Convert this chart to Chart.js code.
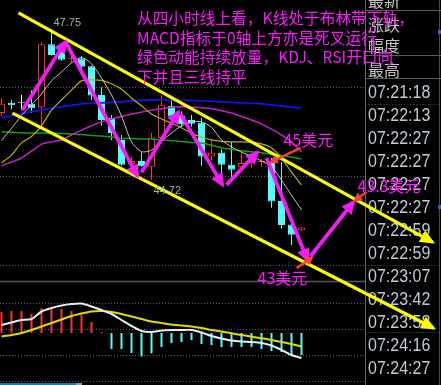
<!DOCTYPE html>
<html>
<head>
<meta charset="utf-8">
<script src="https://cdn.jsdelivr.net/npm/chart.js@4.4.1/dist/chart.umd.min.js"></script>
<style>
  html, body { margin: 0; padding: 0; background: #000; overflow: hidden; }
  canvas { display: block; }
</style>
</head>
<body>
<canvas id="k" width="441" height="385"></canvas>
<script>
// ---- 4h candles (index 0..30) ----
const opens  = [46.09,46.30,46.30,46.28,46.21,47.50,47.41,47.19,47.21,47.05,46.46,45.99,45.54,45.05,45.11,44.99,45.58,46.24,46.03,45.95,45.89,45.20,45.28,45.03,44.98,45.07,45.09,45.09,44.29,43.81,43.69];
const highs  = [46.40,46.36,46.46,46.56,47.55,47.75,47.46,47.25,47.26,47.06,46.62,46.05,45.64,45.19,45.29,45.69,46.46,46.36,46.13,46.05,45.99,45.54,45.35,45.50,45.27,45.25,45.15,45.17,45.09,43.82,43.76];
const lows   = [46.03,46.17,46.15,46.09,45.79,47.27,47.16,47.12,46.95,46.36,45.83,45.54,45.01,44.97,44.99,44.72,45.54,45.91,45.81,45.81,45.01,45.13,44.86,44.78,44.97,44.97,44.99,44.15,43.72,43.39,43.68];
const closes = [46.28,46.25,46.30,46.19,47.50,47.28,47.18,47.20,47.04,46.45,45.95,45.68,45.03,45.11,45.00,45.59,46.25,46.02,45.86,45.87,45.20,45.28,45.03,44.93,45.07,45.13,45.11,44.28,43.80,43.60,43.75];
// swing extremes tagged with their price
const swingHighIdx = 5;
const swingLowIdx = 15;

// ---- moving averages ----
const maWhite  = [45.53,45.78,46.04,46.26,46.48,46.75,46.93,47.12,47.23,47.10,46.81,46.46,46.03,45.50,45.30,45.33,45.52,45.68,45.83,45.91,45.91,45.80,45.54,45.40,45.29,45.21,45.11,44.99,44.72,44.41,44.11];
const maYellow = [45.07,45.23,45.48,45.61,45.83,46.15,46.36,46.56,46.75,46.77,46.76,46.69,46.58,46.40,46.24,46.07,45.97,45.88,45.79,45.68,45.60,45.54,45.51,45.50,45.50,45.49,45.46,45.38,45.17,44.88,44.62];
const maPurple = [45.01,45.09,45.17,45.31,45.45,45.50,45.54,45.64,45.74,45.83,45.91,45.97,46.02,46.07,46.11,46.15,46.18,46.21,46.22,46.21,46.20,46.18,46.14,46.09,46.02,45.95,45.87,45.76,45.64,45.50,45.29];
const maGreen  = [45.71,45.70,45.69,45.68,45.68,45.68,45.67,45.66,45.65,45.63,45.62,45.60,45.57,45.57,45.56,45.56,45.54,45.53,45.51,45.49,45.48,45.43,45.38,45.35,45.32,45.30,45.28,45.25,45.22,45.19,45.15];
const maBlue   = [46.00,46.04,46.08,46.12,46.15,46.19,46.22,46.25,46.28,46.29,46.30,46.31,46.32,46.34,46.35,46.36,46.36,46.36,46.35,46.35,46.34,46.33,46.32,46.31,46.30,46.29,46.28,46.26,46.24,46.21,46.19];

// ---- MACD ----
const macdHist = [0.21,0.22,0.22,0.19,0.25,0.26,0.24,0.22,0.18,0.11,0.01,-0.16,-0.16,-0.20,-0.235,-0.205,-0.14,-0.10,-0.09,-0.07,-0.11,-0.12,-0.14,-0.14,-0.14,-0.14,-0.16,-0.18,-0.19,-0.23,-0.22];
const macdDif  = [0.08,0.105,0.13,0.14,0.215,0.25,0.275,0.29,0.295,0.265,0.23,0.19,0.13,0.07,0.02,0.01,0.025,0.03,0.03,0.03,0.005,-0.03,-0.055,-0.075,-0.085,-0.09,-0.10,-0.125,-0.17,-0.22,-0.25];
const macdDea  = [-0.035,-0.02,0,0.03,0.065,0.10,0.135,0.17,0.195,0.215,0.22,0.21,0.19,0.165,0.14,0.115,0.10,0.085,0.075,0.065,0.05,0.03,0.015,-0.003,-0.02,-0.037,-0.053,-0.07,-0.09,-0.11,-0.135];

// ---- grid levels ----
const priceGrid = [46.62, 44.80, 42.98];
const macdGrid  = [0.297, 0.037, -0.22, -0.477];
const macdFrame = 0.52;

// ---- trend channel and projected path (index, price) ----
const channelTop    = [[1.7, 48.14], [43.1, 43.45]];
const channelBottom = [[1.1, 46.09], [43.2, 41.69]];
const swingPath = [
  [[2.1, 46.15], [6.4, 47.55]],
  [[6.4, 47.55], [13.6, 44.80]],
  [[14.0, 44.88], [17.7, 46.11]],
  [[17.9, 46.07], [22.1, 44.62]],
  [[22.5, 44.62], [25.6, 45.29]],
  [[26.5, 45.17], [30.6, 43.08]],
  [[30.9, 43.16], [35.2, 44.27]]
];
const targetPointers = [
  [[29.9, 45.38], [27.0, 45.09]],
  [[36.5, 44.475], [35.4, 44.31]],
  [[29.5, 42.92], [31.0, 43.12]]
];
const targetTags = [
  { text: '45美元',   x: 28.2, y: 45.54 },
  { text: '43.3美元', x: 35.6, y: 44.59 },
  { text: '43美元',   x: 25.6, y: 42.72 }
];
const noteLines = [
  '从四小时线上看，K线处于布林带下轨，',
  'MACD指标于0轴上方亦是死叉运行',
  '绿色动能持续放量，KDJ、RSI开口向',
  '下并且三线持平'
];
const quoteFields = ['最新', '涨跌', '幅度', '最高'];
const tickTimes = ['07:21:18','07:22:13','07:22:27','07:22:27','07:22:27','07:22:27','07:22:59','07:22:59','07:23:07','07:23:42','07:23:58','07:24:16','07:24:27'];

// ---- colours ----
const UP = '#ff3232', DOWN = '#54fcfc', FLAT = '#ffffff';
const idx = opens.map((_, i) => i);
const tone = idx.map(i => closes[i] > opens[i] ? UP : (closes[i] < opens[i] ? DOWN : FLAT));

const toPts = arr => arr.map(([x, y]) => ({ x, y }));
function maLine(vals, color, width, order) {
  return { type: 'line', data: vals.map((v, i) => ({ x: i, y: v })), borderColor: color, borderWidth: width,
           pointRadius: 0, tension: 0.25, yAxisID: 'y', order };
}
function macdLine(vals, color, order) {
  return { type: 'line', data: vals.map((v, i) => ({ x: i, y: v })), borderColor: color, borderWidth: 2,
           pointRadius: 0, tension: 0.25, yAxisID: 'y2', order };
}
function arrowLine(pts, color, width, head, order) {
  return { type: 'line', data: toPts(pts), borderColor: color, borderWidth: width, pointRadius: 0,
           tension: 0, yAxisID: 'y', order, arrowHead: head };
}

const datasets = [
  { type: 'bar', data: idx.map(i => ({ x: i, y: [lows[i], highs[i]] })), backgroundColor: tone,
    barThickness: 1, grouped: false, yAxisID: 'y', order: 20, inflateAmount: 0, minBarLength: 1 },
  { type: 'bar', data: idx.map(i => ({ x: i, y: [opens[i], closes[i]] })),
    backgroundColor: idx.map(i => tone[i] === UP ? '#000000' : tone[i]), borderColor: tone, borderWidth: 1,
    borderSkipped: false, barThickness: 7, grouped: false, yAxisID: 'y', order: 19, inflateAmount: 0, minBarLength: 1 },
  maLine(maGreen, '#10a010', 1.5, 15),
  maLine(maBlue, '#1010f0', 1.8, 14),
  maLine(maPurple, '#c81ec8', 1.5, 13),
  maLine(maYellow, '#b8b400', 1.2, 12),
  maLine(maWhite, '#c8c8c8', 1, 11),
  { type: 'bar', data: macdHist.map((v, i) => ({ x: i, y: [0, v] })),
    backgroundColor: macdHist.map(v => v >= 0 ? UP : DOWN), barThickness: 2, grouped: false,
    yAxisID: 'y2', order: 18, inflateAmount: 0, minBarLength: 1 },
  macdLine(macdDea, '#e0dc00', 10),
  macdLine(macdDif, '#ececec', 9),
  arrowLine(channelTop, '#ffff00', 3.2, { len: 15, half: 6.5 }, 5),
  arrowLine(channelBottom, '#ffff00', 3.2, { len: 15, half: 6.5 }, 5),
  ...swingPath.map(p => arrowLine(p, '#f41cf4', 3.8, { len: 14, half: 6.5 }, 3)),
  ...targetPointers.map(p => arrowLine(p, '#ff3c3c', 2.5, { len: 9, half: 4.5 }, 2))
];

// grid lines and the quote panel on the right
const framePlugin = {
  id: 'frame',
  beforeDatasetsDraw(chart) {
    const { ctx, scales: { y, y2 } } = chart;
    const split = 365.5;
    ctx.save();
    ctx.lineWidth = 1;
    ctx.strokeStyle = '#5e5e5e';
    ctx.setLineDash([1, 2]);
    const hline = (py, x0, x1) => { ctx.beginPath(); ctx.moveTo(x0, py); ctx.lineTo(x1, py); ctx.stroke(); };
    priceGrid.forEach(v => hline(Math.round(y.getPixelForValue(v)) + 0.5, 0, split));
    macdGrid.forEach(v => hline(Math.round(y2.getPixelForValue(v)) + 0.5, 0, split));
    ctx.setLineDash([]);
    ctx.strokeStyle = '#585858';
    ctx.lineWidth = 1.5;
    hline(Math.round(y2.getPixelForValue(macdFrame)) + 0.5, 0, split);

    // quote panel
    ctx.fillStyle = '#000';
    ctx.fillRect(split + 0.5, 0, 441 - split, 385);
    ctx.lineWidth = 1;
    ctx.strokeStyle = '#6a6a6a';
    ctx.beginPath(); ctx.moveTo(split, 0); ctx.lineTo(split, 385); ctx.stroke();
    ctx.strokeStyle = '#4a4a4a';
    ctx.beginPath(); ctx.moveTo(439.5, 0); ctx.lineTo(439.5, 385); ctx.stroke();
    ctx.strokeStyle = '#5a5a5a';
    [10.5, 55.5, 78.5].forEach(py => hline(py, split, 441));
    ctx.setLineDash([1, 2]);
    [104.5, 265.5, 332.5].forEach(py => hline(py, split, 439));
    ctx.setLineDash([]);

    ctx.fillStyle = '#c4c4c4';
    ctx.font = '16px "Noto Sans CJK SC"';
    ctx.textBaseline = 'middle';
    [1, 25, 46, 69.5].forEach((py, i) => ctx.fillText(quoteFields[i], 368, py));
    ctx.fillStyle = '#c2ccd6';
    ctx.font = '16px "Liberation Sans"';
    tickTimes.forEach((t, i) => {
      ctx.save();
      ctx.translate(368, 93 + 23 * i);
      ctx.scale(1, 1.1);
      ctx.fillText(t, 0, 0);
      ctx.restore();
    });

    ctx.fillStyle = '#3060c8';
    ctx.fillRect(438, 30, 3, 4);
    ctx.fillRect(438, 205, 3, 4);
    ctx.fillStyle = '#1e78a8';
    ctx.fillRect(0, 383, 76, 2);
    ctx.fillStyle = '#9a9a9a';
    ctx.fillRect(76, 383, 6, 2);
    ctx.restore();
  },
  afterDatasetsDraw(chart) {
    const { ctx, scales: { x, y } } = chart;
    ctx.save();
    // arrow heads at the end of drawn lines
    chart.data.datasets.forEach((ds, i) => {
      if (!ds.arrowHead) return;
      const pts = chart.getDatasetMeta(i).data;
      const a = pts[pts.length - 2], b = pts[pts.length - 1];
      const ang = Math.atan2(b.y - a.y, b.x - a.x);
      const { len, half } = ds.arrowHead;
      ctx.save();
      ctx.fillStyle = ds.borderColor;
      ctx.translate(b.x, b.y);
      ctx.rotate(ang);
      ctx.beginPath();
      ctx.moveTo(3, 0);
      ctx.lineTo(3 - len, -half);
      ctx.lineTo(3 - len, half);
      ctx.closePath();
      ctx.fill();
      ctx.restore();
    });

    // swing high / low price labels
    ctx.font = '11px "Liberation Sans"';
    ctx.fillStyle = '#a4aebb';
    ctx.textBaseline = 'bottom';
    ctx.fillText(highs[swingHighIdx].toFixed(2), x.getPixelForValue(swingHighIdx) + 2, y.getPixelForValue(highs[swingHighIdx]) - 4);
    ctx.textBaseline = 'top';
    ctx.fillText(lows[swingLowIdx].toFixed(2), x.getPixelForValue(swingLowIdx) + 2, y.getPixelForValue(lows[swingLowIdx]) + 5);
    ctx.restore();
  },
  afterDraw(chart) {
    const { ctx, scales: { x, y } } = chart;
    ctx.save();
    ctx.fillStyle = '#ff18ff';
    ctx.textBaseline = 'middle';
    ctx.font = '15.7px "Noto Sans CJK SC"';
    [18.5, 38, 57.5, 77].forEach((py, i) => ctx.fillText(noteLines[i], 137, py));
    ctx.font = '16px "Noto Sans CJK SC"';
    targetTags.forEach(t => ctx.fillText(t.text, x.getPixelForValue(t.x), y.getPixelForValue(t.y)));
    ctx.restore();
  }
};

new Chart(document.getElementById('k'), {
  type: 'bar',
  data: { datasets },
  options: {
    responsive: false,
    animation: false,
    devicePixelRatio: 1,
    layout: { padding: 0 },
    plugins: { legend: { display: false }, tooltip: { enabled: false } },
    scales: {
      x: { type: 'linear', display: false, offset: false, min: -0.15, max: 43.95 },
      y: { type: 'linear', display: false, min: 40.5238, max: 48.4051 },
      y2: { type: 'linear', display: false, min: -0.52, max: 3.33 }
    }
  },
  plugins: [framePlugin]
});
</script>
</body>
</html>
